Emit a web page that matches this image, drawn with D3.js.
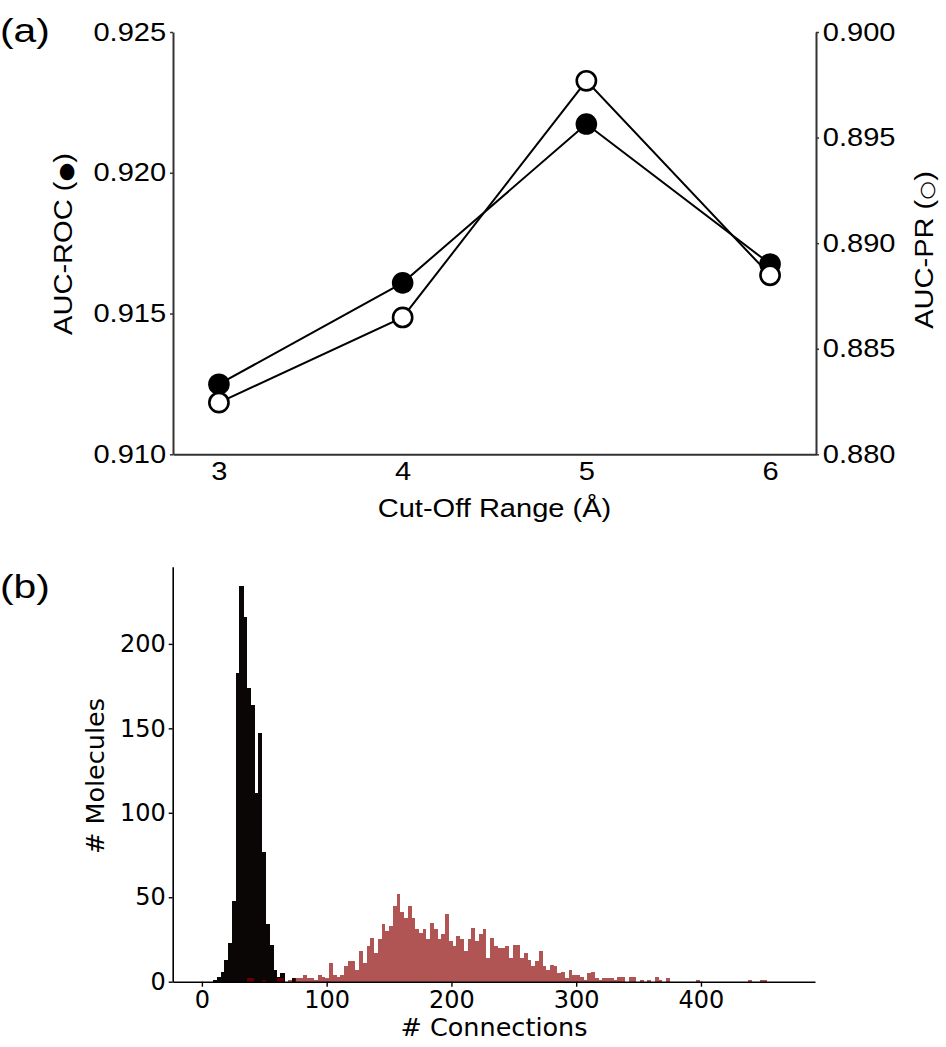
<!DOCTYPE html>
<html>
<head>
<meta charset="utf-8">
<script src="https://cdn.jsdelivr.net/npm/d3@7"></script>
<style>
  body { margin: 0; background: #fff; }
  .pa text { font-family: "Liberation Sans", Arial, sans-serif; }
  .pb text { font-family: "DejaVu Sans", sans-serif; }
</style>
</head>
<body>
<div id="chart"></div>
<script>
// (a) cut-off range vs scores
var cutoffs = [3, 4, 5, 6];
var aucRoc = [0.91249, 0.91609, 0.92173, 0.91676];
var aucPr = [0.88245, 0.88648, 0.89769, 0.88848];
var rocTicks = [0.910, 0.915, 0.920, 0.925];
var prTicks = [0.880, 0.885, 0.890, 0.895, 0.900];

// (b) histogram of connections, bins of 3 starting at 0
var binStart = 0, binWidth = 3;
var blackCounts = [0, 0, 0, 1, 3, 6, 13, 23, 48, 183, 234, 216, 174, 164, 112, 147, 77, 34, 22, 7, 3, 5, 0, 0, 2];
var redCounts = [0, 0, 0, 0, 0, 0, 0, 0, 0, 0, 0, 0,
  2, 2, 0, 0, 1, 0, 0, 0, 2, 2, 0, 1, 0, 2, 2, 4, 2, 2, 1, 4, 3, 2,
  11, 4, 3, 4, 9, 12, 12, 7, 18, 11, 21, 26, 17, 25, 34, 30, 33, 45, 52, 41, 38, 45,
  38, 31, 29, 31, 25, 35, 31, 25, 28, 40, 24, 21, 27, 25, 18, 25, 32, 24, 28, 31,
  14, 26, 21, 20, 20, 21, 14, 22, 22, 14, 17, 13, 9, 12, 18, 9, 7, 10, 9, 5, 6, 2, 7, 4,
  4, 3, 1, 5, 6, 2, 1, 2, 2, 2, 1, 3, 3, 0, 3, 3, 0, 1, 0, 1, 0, 3, 1, 0, 2,
  0, 0, 0, 0, 0, 0, 0, 1, 0, 0, 0, 0, 0, 0, 0, 0, 0, 0, 0, 0, 0, 1, 0, 0, 1, 1];
var histXTicks = [0, 100, 200, 300, 400];
var histYTicks = [0, 50, 100, 150, 200];

var W = 946, H = 1047;
var stretch = "scale(1.14,1)";

var svg = d3.select("#chart").append("svg")
    .attr("width", W)
    .attr("height", H);

// ---------- panel (a) ----------
var pa = svg.append("g").attr("class", "pa");

var x = d3.scaleLinear().domain([2.75, 6.25]).range([173, 816]);
var yL = d3.scaleLinear().domain([0.910, 0.925]).range([454.3, 32]);
var yR = d3.scaleLinear().domain([0.880, 0.900]).range([454.3, 32]);

var axB = pa.append("g")
    .attr("transform", "translate(0,454.3)")
    .call(d3.axisBottom(x).tickValues(cutoffs).tickFormat(d3.format("d"))
      .tickSize(0).tickPadding(8));
var axL = pa.append("g")
    .attr("transform", "translate(173,0)")
    .call(d3.axisLeft(yL).tickValues(rocTicks).tickFormat(d3.format(".3f"))
      .tickSize(3).tickSizeOuter(0).tickPadding(3));
var axR = pa.append("g")
    .attr("transform", "translate(816,0)")
    .call(d3.axisRight(yR).tickValues(prTicks).tickFormat(d3.format(".3f"))
      .tickSize(3).tickSizeOuter(0).tickPadding(3));

[axB, axL, axR].forEach(function(a) {
  a.select(".domain").attr("stroke", "#333").attr("stroke-width", 2);
  a.selectAll(".tick line").attr("stroke", "#333").attr("stroke-width", 1.5);
  a.selectAll(".tick text").attr("fill", "#000").style("font-size", "25.5px")
    .attr("transform", stretch);
});

var line = d3.line()
    .x(function(d) { return x(d.x); })
    .y(function(d) { return d.y; });

var rocPts = cutoffs.map(function(c, i) { return {x: c, y: yL(aucRoc[i])}; });
var prPts = cutoffs.map(function(c, i) { return {x: c, y: yR(aucPr[i])}; });

pa.append("path").datum(rocPts).attr("d", line)
    .attr("fill", "none").attr("stroke", "#000").attr("stroke-width", 2);
pa.selectAll(".roc").data(rocPts).enter().append("circle")
    .attr("cx", function(d) { return x(d.x); })
    .attr("cy", function(d) { return d.y; })
    .attr("r", 10.8).attr("fill", "#000");

pa.append("path").datum(prPts).attr("d", line)
    .attr("fill", "none").attr("stroke", "#000").attr("stroke-width", 2);
pa.selectAll(".pr").data(prPts).enter().append("circle")
    .attr("cx", function(d) { return x(d.x); })
    .attr("cy", function(d) { return d.y; })
    .attr("r", 9.6).attr("fill", "#fff").attr("stroke", "#000").attr("stroke-width", 2.6);

pa.append("text")
    .attr("transform", "translate(494.5,517) " + stretch)
    .attr("text-anchor", "middle")
    .style("font-size", "25.5px")
    .text("Cut-Off Range (Å)");

var lblL = pa.append("text")
    .attr("transform", "translate(72,244) rotate(-90) " + stretch)
    .attr("text-anchor", "middle")
    .style("font-size", "25.5px");
lblL.append("tspan").text("AUC-ROC (");
lblL.append("tspan").style("font-family", "'DejaVu Sans'").style("font-size", "19px").text("●");
lblL.append("tspan").text(")");

var lblR = pa.append("text")
    .attr("transform", "translate(933,250) rotate(-90) " + stretch)
    .attr("text-anchor", "middle")
    .style("font-size", "25.5px");
lblR.append("tspan").text("AUC-PR (");
lblR.append("tspan").style("font-family", "'DejaVu Sans'").style("font-size", "19px").text("○");
lblR.append("tspan").text(")");

pa.append("text")
    .attr("transform", "translate(0,42) scale(1.2,1)")
    .style("font-size", "34px")
    .text("(a)");

// ---------- panel (b) ----------
var pb = svg.append("g").attr("class", "pb");

var xh = d3.scaleLinear().domain([-23.4, 491.4]).range([172.7, 815]);
var yh = d3.scaleLinear().domain([0, 245.7]).range([981.7, 566.7]);
var bw = xh(binWidth) - xh(0);

pb.selectAll(".bk").data(blackCounts).enter().append("rect")
    .attr("x", function(d, i) { return xh(binStart + i * binWidth); })
    .attr("y", function(d) { return yh(d); })
    .attr("width", bw + 0.5)
    .attr("height", function(d) { return yh(0) - yh(d); })
    .attr("fill", "#0b0606")
    .attr("shape-rendering", "crispEdges");

pb.selectAll(".rd").data(redCounts).enter().append("rect")
    .attr("x", function(d, i) { return xh(binStart + i * binWidth); })
    .attr("y", function(d) { return yh(d); })
    .attr("width", bw)
    .attr("height", function(d) { return yh(0) - yh(d); })
    .attr("fill", "#8b0000")
    .attr("fill-opacity", 0.67)
    .attr("shape-rendering", "crispEdges");

var hB = pb.append("g")
    .attr("transform", "translate(0,981.7)")
    .call(d3.axisBottom(xh).tickValues(histXTicks).tickSize(5).tickSizeOuter(0).tickPadding(4));
var hL = pb.append("g")
    .attr("transform", "translate(172.7,0)")
    .call(d3.axisLeft(yh).tickValues(histYTicks).tickSize(4).tickSizeOuter(0).tickPadding(3));

[hB, hL].forEach(function(a) {
  a.select(".domain").attr("stroke", "#000").attr("stroke-width", 1.6);
  a.selectAll(".tick line").attr("stroke", "#000").attr("stroke-width", 1.4);
  a.selectAll(".tick text").attr("fill", "#000").style("font-size", "24px");
});

pb.append("text")
    .attr("x", 494).attr("y", 1036)
    .attr("text-anchor", "middle")
    .style("font-size", "25.5px")
    .text("# Connections");

pb.append("text")
    .attr("transform", "translate(104,776) rotate(-90)")
    .attr("text-anchor", "middle")
    .style("font-size", "25.5px")
    .text("# Molecules");

svg.append("text")
    .attr("transform", "translate(0,598) scale(1.2,1)")
    .style("font-family", "'Liberation Sans', Arial, sans-serif")
    .style("font-size", "34px")
    .text("(b)");
</script>
</body>
</html>
